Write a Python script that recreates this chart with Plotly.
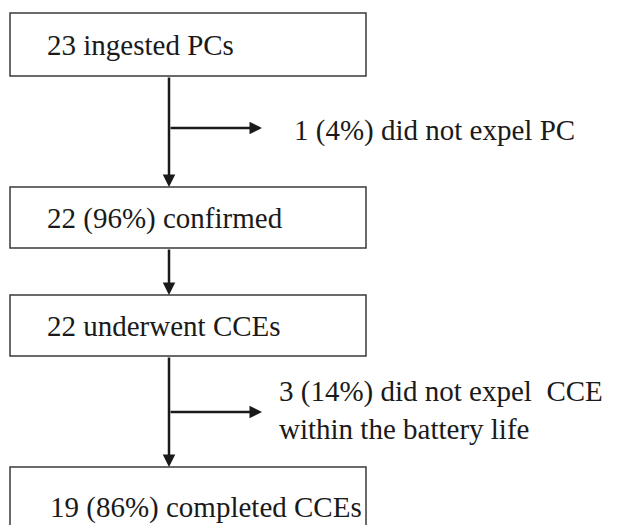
import plotly.graph_objects as go

# Flowchart content
box_labels = [
    "23 ingested PCs",
    "22 (96%) confirmed",
    "22 underwent CCEs",
    "19 (86%) completed CCEs",
]
side_labels = [
    "1 (4%) did not expel PC",
    "3 (14%) did not expel  CCE<br>within the battery life",
]

# Layout geometry (pixels, y downward)
W, H = 617, 525
box_x0, box_x1 = 10, 366
box_tops = [13, 187, 295, 467]
box_bottoms = [76, 248, 356, 545]
text_x = [45, 45, 45, 48]
text_y = [45, 218, 326, 507]
stem_x = 169
branch_y = [128, 412]
branch_tip = 262
side_x = [292, 277]
side_y = [130, 410]

FONT = "Liberation Serif"
fig = go.Figure()

shapes = []
for t, b in zip(box_tops, box_bottoms):
    shapes.append(dict(type="rect", xref="x", yref="y", x0=box_x0, x1=box_x1, y0=t, y1=b,
                       line=dict(color="#3a3a3a", width=1.5), fillcolor="rgba(0,0,0,0)"))
fig.update_layout(shapes=shapes)

ann = []
for lab, x, y in zip(box_labels, text_x, text_y):
    ann.append(dict(x=x, y=y, xref="x", yref="y", text=lab, showarrow=False,
                    xanchor="left", yanchor="middle",
                    font=dict(family=FONT, size=29, color="#1a1a1a")))
for lab, x, y in zip(side_labels, side_x, side_y):
    ann.append(dict(x=x, y=y, xref="x", yref="y", text=lab, showarrow=False,
                    xanchor="left", yanchor="middle", align="left",
                    font=dict(family=FONT, size=29, color="#1a1a1a")))

arrow_style = dict(showarrow=True, arrowhead=2, arrowsize=1.0, arrowwidth=2.5,
                   arrowcolor="#1a1a1a", text="", standoff=0, startstandoff=0,
                   xref="x", yref="y", axref="x", ayref="y")
for i in range(3):
    ann.append(dict(x=stem_x, y=box_tops[i + 1], ax=stem_x, ay=box_bottoms[i], **arrow_style))
for by in branch_y:
    ann.append(dict(x=branch_tip, y=by, ax=stem_x, ay=by, **arrow_style))
fig.update_layout(annotations=ann)

fig.update_layout(
    width=W, height=H, margin=dict(l=0, r=0, t=0, b=0),
    paper_bgcolor="white", plot_bgcolor="white", showlegend=False,
    xaxis=dict(range=[0, W], visible=False, fixedrange=True),
    yaxis=dict(range=[H, 0], visible=False, fixedrange=True),
)
fig.write_html("out.html", config={"displayModeBar": False},
               post_script="document.body.style.margin='0';document.body.style.overflow='hidden';")
